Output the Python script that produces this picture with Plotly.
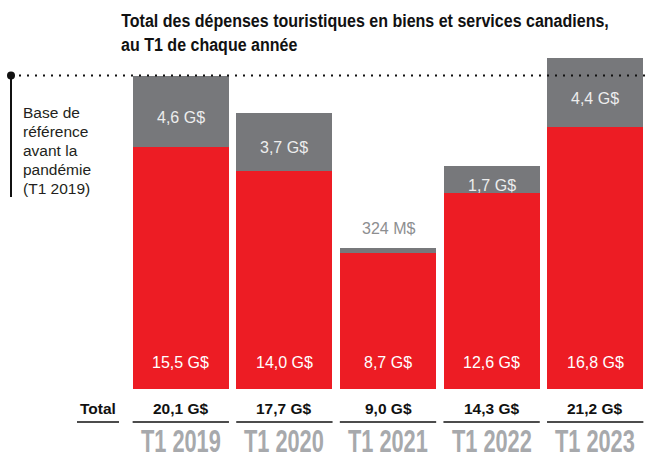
import plotly.graph_objects as go

# ---- data ----
years = ["T1 2019", "T1 2020", "T1 2021", "T1 2022", "T1 2023"]
red_vals = [15.5, 14.0, 8.7, 12.6, 16.8]
grey_vals = [4.6, 3.7, 0.324, 1.7, 4.4]
totals = [20.1, 17.7, 9.0, 14.3, 21.2]
red_labels = ["15,5 G$", "14,0 G$", "8,7 G$", "12,6 G$", "16,8 G$"]
grey_labels = ["4,6 G$", "3,7 G$", "324 M$", "1,7 G$", "4,4 G$"]
total_labels = ["20,1 G$", "17,7 G$", "9,0 G$", "14,3 G$", "21,2 G$"]
title_lines = ["Total des dépenses touristiques en biens et services canadiens,",
               "au T1 de chaque année"]
baseline_lines = ["Base de", "référence", "avant la", "pandémie", "(T1 2019)"]

RED = "#ED1C24"
GREY = "#77787B"
LIGHT = "#A7A9AC"
FONT = "Liberation Sans, Arial, Helvetica, sans-serif"
TITLE_FONT = "CondTitle, Liberation Sans, Arial, sans-serif"
YEAR_FONT = "CondYear, Liberation Sans, Arial, sans-serif"

W, H = 651, 454
ML, MR, MT, MB = 129, 4, 46, 65
PW = W - ML - MR
PH = H - MT - MB
YMAX = 22.0

def px_to_paper_x(px):
    return (px - ML) / PW

def px_to_paper_y(py):
    return (H - MB - py) / PH

fig = go.Figure()
fig.add_trace(go.Bar(x=years, y=red_vals, marker=dict(color=RED, line=dict(width=0)),
                     hoverinfo="skip"))
fig.add_trace(go.Bar(x=years, y=grey_vals, marker=dict(color=GREY, line=dict(width=0)),
                     hoverinfo="skip"))

annotations = []
shapes = []

# title
for i, line in enumerate(title_lines):
    annotations.append(dict(text="<b>" + line + "</b>", xref="paper", yref="paper",
                            x=px_to_paper_x(119), y=1, xanchor="left", yanchor="middle",
                            yshift=26 - 24 * i, showarrow=False,
                            font=dict(family=TITLE_FONT, size=18.5, color="#111111")))

for i, yr in enumerate(years):
    annotations.append(dict(text=red_labels[i], x=yr, y=1.7, xref="x", yref="y",
                            showarrow=False, font=dict(family=FONT, size=16, color="#FFFFFF")))
    if grey_vals[i] > 1:
        annotations.append(dict(text=grey_labels[i], x=yr, y=red_vals[i] + grey_vals[i] / 2,
                                xref="x", yref="y", yshift=-6, showarrow=False,
                                font=dict(family=FONT, size=16, color="#EDEDED")))
    else:
        annotations.append(dict(text=grey_labels[i], x=yr, y=totals[i], xref="x", yref="y",
                                yshift=20, showarrow=False,
                                font=dict(family=FONT, size=16, color="#8D8E90")))
    annotations.append(dict(text="<b>" + total_labels[i] + "</b>", x=yr, y=0, xref="x", yref="y",
                            yshift=-19, showarrow=False,
                            font=dict(family=FONT, size=15.5, color="#111111")))
    annotations.append(dict(text="<b>" + yr + "</b>", x=yr, y=0, xref="x", yref="y",
                            yshift=-52, showarrow=False,
                            font=dict(family=YEAR_FONT, size=31, color=LIGHT)))
    shapes.append(dict(type="line", xref="x", yref="paper", x0=i - 0.465, x1=i + 0.465,
                       y0=px_to_paper_y(422), y1=px_to_paper_y(422),
                       line=dict(color="#111111", width=1.5)))

annotations.append(dict(text="<b>Total</b>", xref="paper", yref="y", x=px_to_paper_x(98), y=0,
                        xanchor="center", yshift=-19, showarrow=False,
                        font=dict(family=FONT, size=15.5, color="#111111")))
shapes.append(dict(type="line", xref="paper", yref="paper", x0=px_to_paper_x(77),
                   x1=px_to_paper_x(119), y0=px_to_paper_y(422), y1=px_to_paper_y(422),
                   line=dict(color="#111111", width=1.5)))

for i, line in enumerate(baseline_lines):
    annotations.append(dict(text=line, xref="paper", yref="paper", x=px_to_paper_x(21),
                            y=px_to_paper_y(112 + 19 * i), xanchor="left", yanchor="middle",
                            showarrow=False, font=dict(family=FONT, size=15.5, color="#231F20")))

base = totals[0]
shapes.append(dict(type="line", xref="paper", yref="y", x0=px_to_paper_x(11), x1=px_to_paper_x(652),
                   y0=base, y1=base, layer="above",
                   line=dict(color="#111111", width=2, dash="2px,6px")))
shapes.append(dict(type="line", xref="paper", yref="y", x0=px_to_paper_x(11), x1=px_to_paper_x(11),
                   y0=base, y1=(H - MB - 197) / PH * YMAX,
                   line=dict(color="#111111", width=2)))
shapes.append(dict(type="circle", xref="paper", yref="y", xsizemode="pixel", ysizemode="pixel",
                   xanchor=px_to_paper_x(11), yanchor=base, x0=-4, x1=4, y0=-4, y1=4,
                   fillcolor="#111111", line=dict(width=0)))

fig.update_layout(
    width=W, height=H,
    margin=dict(l=ML, r=MR, t=MT, b=MB, pad=0),
    barmode="stack", bargap=0.072,
    showlegend=False,
    plot_bgcolor="white", paper_bgcolor="white",
    xaxis=dict(visible=False, range=[-0.5, 4.5], fixedrange=True),
    yaxis=dict(visible=False, range=[0, YMAX], fixedrange=True),
    annotations=annotations,
    shapes=shapes,
)

post = """
document.body.style.margin = '0';
var gd = document.getElementById('{plot_id}');
function condense(marker, target, originLeft) {
  var texts = Array.prototype.slice.call(gd.querySelectorAll('text.annotation-text')).filter(function(t) {
    return (t.getAttribute('style') || '').indexOf(marker) >= 0;
  });
  if (!texts.length) return;
  var s = target / texts[0].getBBox().width;
  texts.forEach(function(t) {
    var b = t.getBBox();
    var ox = originLeft ? b.x : b.x + b.width / 2;
    t.setAttribute('transform', 'translate(' + ox + ',0) scale(' + s + ',1) translate(' + (-ox) + ',0)');
  });
}
condense('CondTitle', 488, true);
condense('CondYear', 80, false);
"""

fig.write_html("out.html", post_script=post, config={"displayModeBar": False})
